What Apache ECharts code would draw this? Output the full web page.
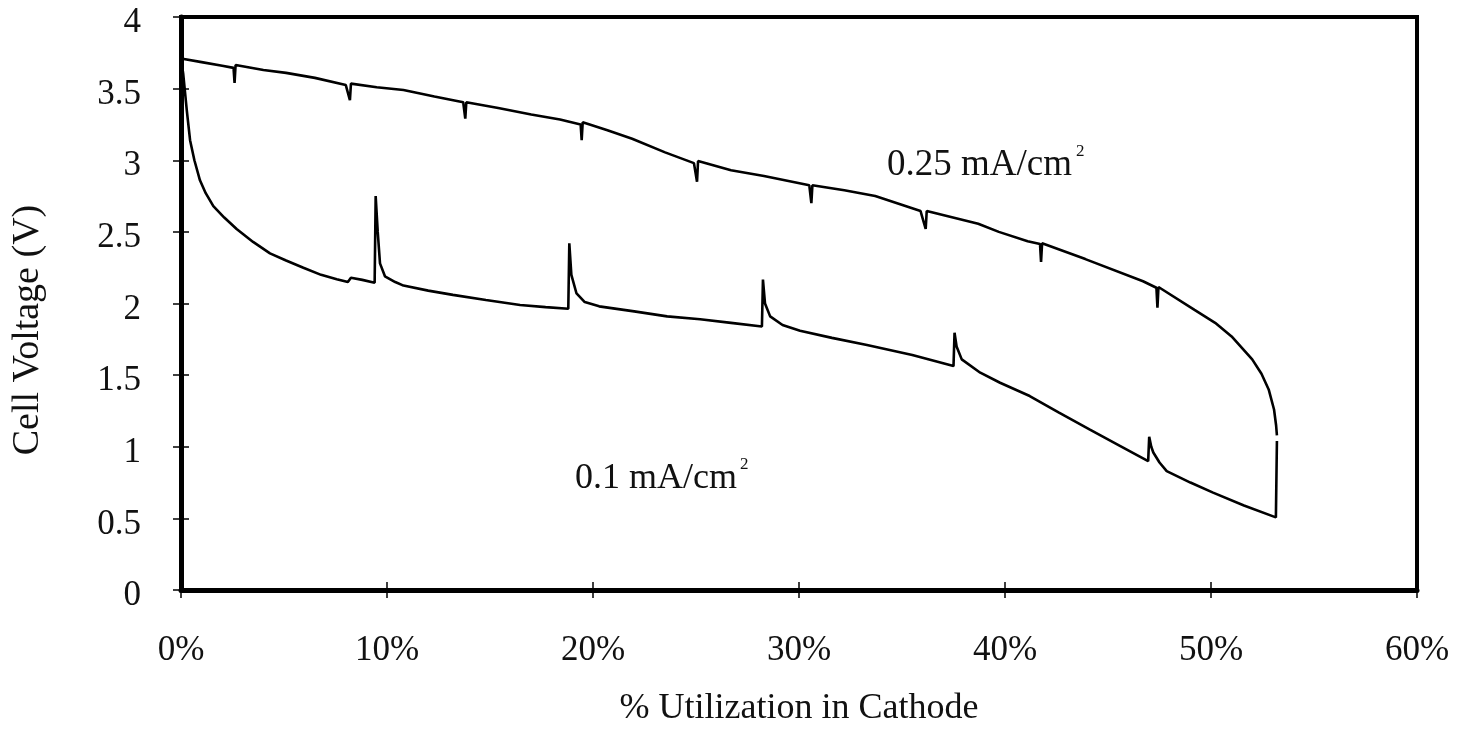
<!DOCTYPE html>
<html>
<head>
<meta charset="utf-8">
<script src="https://cdn.jsdelivr.net/npm/echarts@6/dist/echarts.min.js"></script>
<style>
  html, body { margin: 0; padding: 0; background: #fff; }
  #chart { width: 1471px; height: 732px; }
</style>
</head>
<body>
<div id="chart"></div>
<script>
// 坐标轴刻度
const xTicks = [0, 10, 20, 30, 40, 50, 60];
const yTicks = [0, 0.5, 1, 1.5, 2, 2.5, 3, 3.5, 4];

// 0.25 mA/cm2 放电曲线 [利用率 %, 电压 V]
const highRate = [
  [0, 3.71], [1.0, 3.685], [2.0, 3.66], [2.55, 3.645], [2.6, 3.54], [2.65, 3.665],
  [4.0, 3.63], [5.1, 3.61], [6.5, 3.575], [8.0, 3.525], [8.2, 3.42], [8.25, 3.535],
  [9.5, 3.51], [10.8, 3.49], [12.3, 3.445], [13.7, 3.405], [13.8, 3.29], [13.85, 3.405],
  [15.4, 3.365], [17.0, 3.32], [18.4, 3.285], [19.4, 3.25], [19.45, 3.14], [19.5, 3.265],
  [20.7, 3.21], [21.9, 3.15], [23.5, 3.055], [24.9, 2.98], [25.05, 2.85], [25.1, 2.995],
  [26.7, 2.93], [28.3, 2.89], [30.5, 2.825], [30.6, 2.70], [30.65, 2.825],
  [32.2, 2.79], [33.7, 2.75], [35.9, 2.645], [36.15, 2.52], [36.2, 2.645],
  [38.7, 2.557], [39.7, 2.5], [41.1, 2.435], [41.7, 2.415], [41.75, 2.29], [41.8, 2.42],
  [43.9, 2.31], [46.7, 2.155], [47.35, 2.11], [47.4, 1.97], [47.45, 2.115],
  [49.2, 1.955], [50.2, 1.865], [51.0, 1.77], [51.5, 1.69], [52.0, 1.61], [52.45, 1.51],
  [52.8, 1.40], [53.06, 1.26], [53.16, 1.15], [53.2, 1.08]
];

// 0.1 mA/cm2 放电曲线
const lowRate = [
  [0, 3.71], [0.11, 3.6], [0.28, 3.35], [0.44, 3.14], [0.65, 3.0], [0.92, 2.86],
  [1.2, 2.77], [1.57, 2.68], [2.1, 2.6], [2.7, 2.52], [3.5, 2.43], [4.32, 2.35],
  [5.1, 2.3], [5.94, 2.25], [6.8, 2.2], [7.56, 2.17], [8.1, 2.15], [8.25, 2.18],
  [8.8, 2.165], [9.4, 2.145], [9.45, 2.75], [9.55, 2.5], [9.66, 2.28], [9.9, 2.19],
  [10.4, 2.15], [10.8, 2.125], [12.0, 2.09], [13.2, 2.06], [14.8, 2.025], [16.46, 1.99],
  [17.7, 1.975], [18.8, 1.963], [18.85, 2.42], [18.95, 2.2], [19.2, 2.07], [19.6, 2.01],
  [20.3, 1.98], [22.0, 1.945], [23.6, 1.91], [25.2, 1.89], [26.7, 1.865], [28.2, 1.84],
  [28.25, 2.167], [28.35, 2.0], [28.6, 1.91], [29.2, 1.85], [30.05, 1.81], [31.6, 1.76],
  [33.3, 1.71], [35.5, 1.64], [37.5, 1.563], [37.55, 1.796], [37.65, 1.7], [37.9, 1.61],
  [38.8, 1.517], [39.76, 1.447], [41.2, 1.354], [42.6, 1.24], [44.1, 1.122], [45.6, 1.005],
  [46.95, 0.9], [47.0, 1.07], [47.1, 1.0], [47.2, 0.96], [47.5, 0.89], [47.85, 0.83],
  [49.0, 0.75], [50.1, 0.68], [51.6, 0.59], [53.15, 0.507], [53.2, 1.04]
];

const FONT = "'Liberation Serif', 'Times New Roman', serif";
const TXT = "#111";

const chart = echarts.init(document.getElementById("chart"));

const option = {
  animation: false,
  backgroundColor: "#fff",
  grid: {
    left: 181,
    right: 54,
    top: 17,
    bottom: 141,
    show: true,
    borderColor: "#000",
    borderWidth: 4,
  },
  xAxis: [
    {
      type: "value",
      min: xTicks[0],
      max: xTicks[xTicks.length - 1],
      interval: 10,
      name: "% Utilization in Cathode",
      nameLocation: "middle",
      nameGap: 101,
      nameTextStyle: { fontFamily: FONT, fontSize: 36, color: TXT },
      axisLine: { lineStyle: { color: "#000", width: 5 } },
      axisTick: { show: true, length: 8, lineStyle: { color: "#000", width: 1.5 } },
      axisLabel: {
        margin: 43,
        fontFamily: FONT,
        fontSize: 35,
        color: TXT,
        formatter: (v) => v + "%",
      },
      splitLine: { show: false },
    },
    {
      // 向内的刻度，形成十字刻度
      type: "value",
      min: xTicks[0],
      max: xTicks[xTicks.length - 1],
      interval: 10,
      position: "bottom",
      axisLine: { show: false },
      axisTick: { show: true, inside: true, length: 8, lineStyle: { color: "#000", width: 1.5 } },
      axisLabel: { show: false },
      splitLine: { show: false },
    },
  ],
  yAxis: [
    {
      type: "value",
      min: yTicks[0],
      max: yTicks[yTicks.length - 1],
      interval: 0.5,
      axisLine: { show: true, lineStyle: { color: "#000", width: 5 } },
      axisTick: { show: true, length: 8, lineStyle: { color: "#000", width: 1.5 } },
      axisLabel: {
        margin: 40,
        fontFamily: FONT,
        fontSize: 35,
        color: TXT,
        // 标签略低于刻度
        verticalAlign: "top",
        lineHeight: 12,
      },
      splitLine: { show: false },
    },
    {
      type: "value",
      min: yTicks[0],
      max: yTicks[yTicks.length - 1],
      interval: 0.5,
      position: "left",
      axisLine: { show: false },
      axisTick: { show: true, inside: true, length: 8, lineStyle: { color: "#000", width: 1.5 } },
      axisLabel: { show: false },
      splitLine: { show: false },
    },
  ],
  series: [
    {
      name: "0.25 mA/cm2",
      type: "line",
      data: highRate,
      symbol: "none",
      lineStyle: { color: "#000", width: 2.6 },
      z: 3,
    },
    {
      name: "0.1 mA/cm2",
      type: "line",
      data: lowRate,
      symbol: "none",
      lineStyle: { color: "#000", width: 2.6 },
      z: 3,
    },
  ],
  graphic: [
    {
      // y轴标题
      type: "text",
      x: 28,
      y: 330,
      rotation: Math.PI / 2,
      style: {
        text: "Cell Voltage (V)",
        font: "38px " + FONT,
        fill: TXT,
        align: "center",
        verticalAlign: "middle",
      },
    },
    {
      type: "text",
      x: 887,
      y: 147,
      style: { text: "0.25 mA/cm", font: "37px " + FONT, fill: TXT },
    },
    {
      type: "text",
      x: 1076,
      y: 143,
      style: { text: "2", font: "17px " + FONT, fill: TXT },
    },
    {
      type: "text",
      x: 575,
      y: 461,
      style: { text: "0.1 mA/cm", font: "36px " + FONT, fill: TXT },
    },
    {
      type: "text",
      x: 740,
      y: 456,
      style: { text: "2", font: "17px " + FONT, fill: TXT },
    },
  ],
};

chart.setOption(option);
window.onresize = () => {
  chart.resize();
};
</script>
</body>
</html>
